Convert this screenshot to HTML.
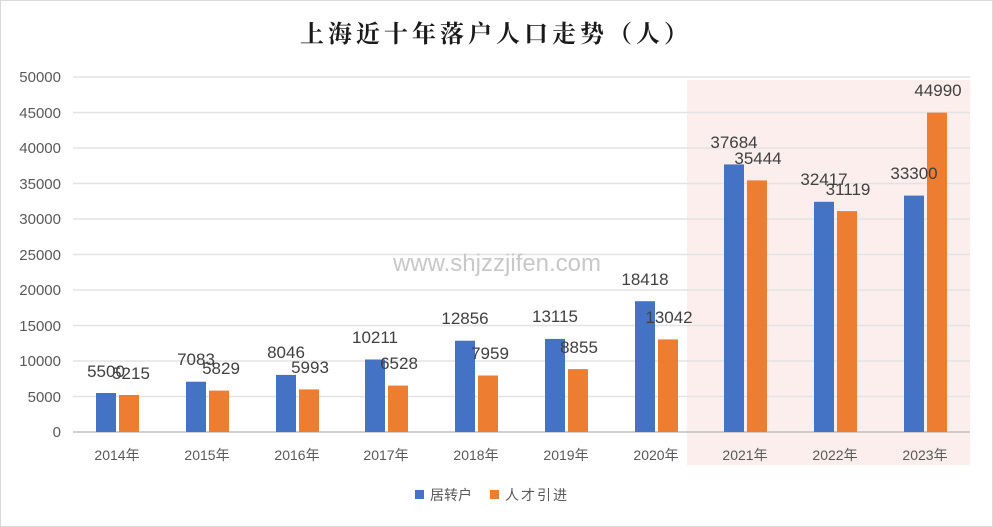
<!DOCTYPE html>
<html><head><meta charset="utf-8"><style>
body{margin:0;background:#fff}
svg{display:block}
text{font-family:"Liberation Sans","Noto Sans CJK SC",sans-serif}
</style></head><body>
<svg width="993" height="527" viewBox="0 0 993 527">
<rect x="0.5" y="0.5" width="992" height="526" fill="#fff" stroke="#d9d9d9"/>
<rect x="687" y="80" width="283" height="385" fill="#fdeeee"/>
<text x="496" y="42" text-anchor="middle" font-size="24" font-weight="bold" fill="#1a1a1a" style="font-family:'Noto Serif CJK SC','Noto Sans CJK SC',serif;letter-spacing:4px">上海近十年落户人口走势（人）</text>
<g stroke="#e3e3e3" stroke-width="1.5">
<line x1="73" x2="970" y1="77" y2="77"/><line x1="73" x2="970" y1="112.5" y2="112.5"/>
<line x1="73" x2="970" y1="148" y2="148"/><line x1="73" x2="970" y1="183.5" y2="183.5"/>
<line x1="73" x2="970" y1="219" y2="219"/><line x1="73" x2="970" y1="254.5" y2="254.5"/>
<line x1="73" x2="970" y1="290" y2="290"/><line x1="73" x2="970" y1="325.5" y2="325.5"/>
<line x1="73" x2="970" y1="361" y2="361"/><line x1="73" x2="970" y1="396.5" y2="396.5"/>
</g>
<line x1="73" x2="970" y1="432" y2="432" stroke="#bfbfbf" stroke-width="1.5"/>
<g font-size="15" fill="#595959" text-anchor="end">
<text x="61" y="82">50000</text><text x="61" y="118">45000</text><text x="61" y="153">40000</text>
<text x="61" y="189">35000</text><text x="61" y="224">30000</text><text x="61" y="260">25000</text>
<text x="61" y="295">20000</text><text x="61" y="331">15000</text><text x="61" y="366">10000</text>
<text x="61" y="402">5000</text><text x="61" y="437">0</text>
</g>
<g fill="#4472C4">
<rect x="96" y="393" width="20" height="39"/><rect x="186" y="381.7" width="20" height="50.3"/>
<rect x="276" y="374.9" width="20" height="57.1"/><rect x="365" y="359.5" width="20" height="72.5"/>
<rect x="455" y="340.7" width="20" height="91.3"/><rect x="545" y="338.9" width="20" height="93.1"/>
<rect x="635" y="301.2" width="20" height="130.8"/><rect x="724" y="164.4" width="20" height="267.6"/>
<rect x="814" y="201.8" width="20" height="230.2"/><rect x="904" y="195.6" width="20" height="236.4"/>
</g>
<g fill="#ED7D31">
<rect x="119" y="395" width="20" height="37"/><rect x="209" y="390.6" width="20" height="41.4"/>
<rect x="299" y="389.4" width="20" height="42.6"/><rect x="388" y="385.6" width="20" height="46.4"/>
<rect x="478" y="375.5" width="20" height="56.5"/><rect x="568" y="369.1" width="20" height="62.9"/>
<rect x="658" y="339.4" width="20" height="92.6"/><rect x="747" y="180.4" width="20" height="251.6"/>
<rect x="837" y="211.1" width="20" height="220.9"/><rect x="927" y="112.6" width="20" height="319.4"/>
</g>
<g font-size="17" fill="#404040" text-anchor="middle">
<text x="106" y="377">5500</text><text x="131" y="379">5215</text>
<text x="196" y="365">7083</text><text x="221" y="374">5829</text>
<text x="286" y="358">8046</text><text x="310" y="373">5993</text>
<text x="375" y="343">10211</text><text x="399" y="369">6528</text>
<text x="465" y="324">12856</text><text x="490" y="359">7959</text>
<text x="555" y="322">13115</text><text x="579" y="353">8855</text>
<text x="645" y="285">18418</text><text x="669" y="323">13042</text>
<text x="734" y="148">37684</text><text x="758" y="164">35444</text>
<text x="824" y="185">32417</text><text x="848" y="195">31119</text>
<text x="914" y="179">33300</text><text x="938" y="96">44990</text>
</g>
<g font-size="14" fill="#595959" text-anchor="middle">
<text x="117" y="460">2014年</text><text x="207" y="460">2015年</text><text x="297" y="460">2016年</text>
<text x="386" y="460">2017年</text><text x="476" y="460">2018年</text><text x="566" y="460">2019年</text>
<text x="656" y="460">2020年</text><text x="745" y="460">2021年</text><text x="835" y="460">2022年</text>
<text x="925" y="460">2023年</text>
</g>
<text x="497" y="271" text-anchor="middle" font-size="24" fill="#c8c8c8">www.shjzzjifen.com</text>
<rect x="415" y="490" width="9" height="9" fill="#4472C4"/>
<text x="430" y="500" font-size="14" fill="#595959">居转户</text>
<rect x="490" y="490" width="9" height="9" fill="#ED7D31"/>
<text x="505" y="500" font-size="14" fill="#595959" letter-spacing="2">人才引进</text>
</svg>
</body></html>
